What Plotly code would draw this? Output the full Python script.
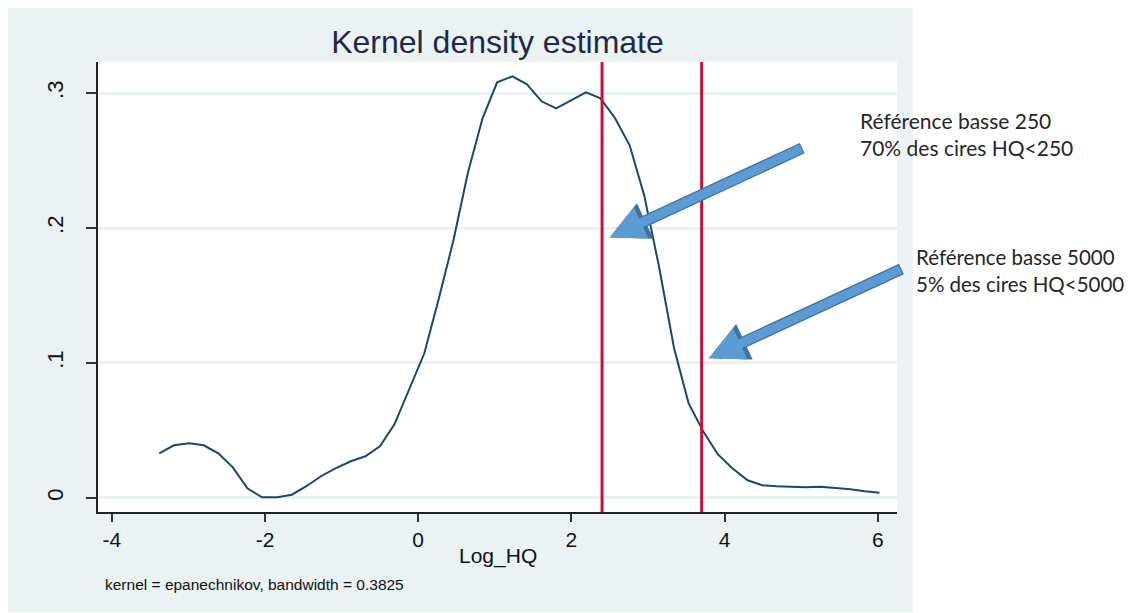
import plotly.graph_objects as go

# ---- data ----
log_hq = [-3.38, -3.19, -2.99, -2.80, -2.61, -2.42, -2.23, -2.04, -1.84, -1.65,
          -1.46, -1.27, -1.08, -0.88, -0.69, -0.50, -0.31, -0.12, 0.08, 0.27,
          0.46, 0.65, 0.84, 1.03, 1.23, 1.42, 1.61, 1.80, 1.99, 2.19,
          2.38, 2.57, 2.76, 2.95, 3.14, 3.34, 3.53, 3.72, 3.91, 4.10,
          4.30, 4.49, 4.68, 4.87, 5.06, 5.25, 5.45, 5.64, 5.83, 6.02]
density = [0.0331, 0.0390, 0.0405, 0.0390, 0.0331, 0.0227, 0.0072, 0.0005, 0.0005, 0.0024,
           0.0087, 0.0161, 0.0220, 0.0272, 0.0309, 0.0383, 0.0546, 0.0798, 0.1072, 0.1479,
           0.1909, 0.2413, 0.2813, 0.3079, 0.3124, 0.3064, 0.2939, 0.2887, 0.2946, 0.3005,
           0.2961, 0.2813, 0.2613, 0.2242, 0.1724, 0.1109, 0.0701, 0.0494, 0.0324, 0.0220,
           0.0131, 0.0094, 0.0087, 0.0083, 0.0079, 0.0083, 0.0076, 0.0064, 0.0050, 0.0039]

ref_lines_x = [2.40, 3.70]  # log10(250), log10(5000)
ref_texts = ["Référence basse 250<br>70% des cires HQ<250",
             "Référence basse 5000<br>5% des cires HQ<5000"]
arrow_tips = [(2.50, 0.193), (3.795, 0.1035)]

x_ticks = [-4, -2, 0, 2, 4, 6]
x_ticktext = ["-4", "-2", "0", "2", "4", "6"]
y_ticks = [0, 0.1, 0.2, 0.3]
y_ticktext = ["0", ".1", ".2", ".3"]

BG = "#eaf2f3"
NAVY = "#1a476f"
RED = "#c8103a"
FONT = "Liberation Sans, Arial"

# page body has an 8px margin: figure is sized/offset to compensate
W, H = 1128, 605

fig = go.Figure()
fig.add_trace(go.Scatter(x=log_hq, y=density, mode="lines",
                         line=dict(color=NAVY, width=2), showlegend=False,
                         hoverinfo="skip"))

shapes = [
    dict(type="rect", xref="paper", yref="paper", x0=-0.1139, x1=1.020,
         y0=-0.222, y1=1.13, fillcolor=BG, line=dict(width=0), layer="below"),
    dict(type="rect", xref="paper", yref="paper", x0=0, x1=1, y0=0, y1=1,
         fillcolor="white", line=dict(width=0), layer="below"),
]
for xv in ref_lines_x:
    shapes.append(dict(type="line", xref="x", yref="paper", x0=xv, x1=xv,
                       y0=0, y1=1, line=dict(color=RED, width=3), layer="above"))

annotations = []
# arrows
for (tx, ty) in arrow_tips:
    annotations.append(dict(x=tx, y=ty, xref="x", yref="y", text="", showarrow=True,
                            ax=194, ay=-90, arrowhead=2, arrowwidth=11.5,
                            arrowsize=0.68, arrowcolor="#41719c"))
    annotations.append(dict(x=tx, y=ty, xref="x", yref="y", text="", showarrow=True,
                            ax=193, ay=-89.5, arrowhead=2, arrowwidth=9,
                            arrowsize=0.77, arrowcolor="#5b9bd5"))
# side texts
annotations.append(dict(x=0.951, y=0.84, xref="paper", yref="paper", text=ref_texts[0],
                        showarrow=False, xanchor="left", yanchor="middle", align="left",
                        font=dict(family="Lato", size=21, color="#262626")))
annotations.append(dict(x=1.021, y=0.536, xref="paper", yref="paper", text=ref_texts[1],
                        showarrow=False, xanchor="left", yanchor="middle", align="left",
                        font=dict(family="Lato", size=20.5, color="#262626")))
# x axis title and note
annotations.append(dict(x=0.5, y=-0.098, xref="paper", yref="paper", text="Log_HQ",
                        showarrow=False, xanchor="center", yanchor="middle",
                        font=dict(family=FONT, size=21, color="#111111")))
annotations.append(dict(x=0.006, y=-0.161, xref="paper", yref="paper",
                        text="kernel = epanechnikov, bandwidth = 0.3825",
                        showarrow=False, xanchor="left", yanchor="middle",
                        font=dict(family=FONT, size=15.5, color="#111111")))

fig.update_layout(
    width=W, height=H,
    margin=dict(l=90, r=239, t=54, b=101, autoexpand=False),
    paper_bgcolor="white", plot_bgcolor="white",
    title=dict(text="Kernel density estimate", x=0.5, xref="paper", xanchor="center",
               y=1 - 34 / H, yref="container", yanchor="middle",
               font=dict(family=FONT, size=32, color="#1e2b47")),
    shapes=shapes, annotations=annotations,
    xaxis=dict(range=[-4.18, 6.25], tickvals=x_ticks, ticktext=x_ticktext,
               ticks="outside", ticklen=8, automargin=False,
               tickwidth=1.5, tickcolor="#333333", showgrid=False, zeroline=False,
               showline=True, linecolor="#222222", linewidth=1.5,
               tickfont=dict(family=FONT, size=21, color="#111111")),
    yaxis=dict(range=[-0.0104, 0.323], tickvals=y_ticks, ticktext=y_ticktext,
               ticks="outside", ticklen=10, tickwidth=1.5, tickcolor="#333333",
               showgrid=True, gridcolor=BG, gridwidth=3, zeroline=False, automargin=False,
               showline=True, linecolor="#222222", linewidth=1.5, tickangle=-90,
               ticklabelstandoff=14,
               tickfont=dict(family=FONT, size=22, color="#111111")),
)

fig.write_html("out.html")
